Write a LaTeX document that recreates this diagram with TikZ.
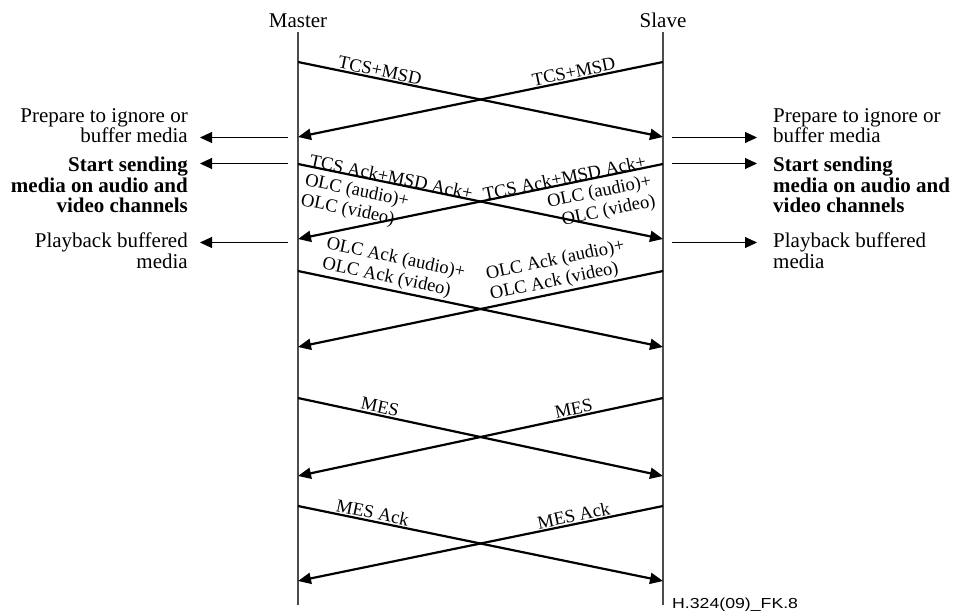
\documentclass[tikz,border=0pt]{standalone}
\usepackage{fontspec}
\setmainfont{Liberation Serif}
\newfontfamily\figfont{Liberation Sans}
\usetikzlibrary{arrows.meta}

\begin{document}
\begin{tikzpicture}[x=1pt,y=1pt,
  side/.style={font=\fontsize{21}{20.5}\selectfont, inner sep=0pt},
  sidebold/.style={side, font=\fontsize{21}{20.5}\selectfont\bfseries},
  head/.style={font=\fontsize{21}{20.5}\selectfont, inner xsep=0pt, inner ysep=5pt},
  lbl/.style={font=\fontsize{18.5}{20.5}\selectfont, inner sep=0pt},
  life/.style={draw=black!70, line width=1.2pt},
  msg/.style={line width=2.2pt, -{Triangle[length=13pt,width=11pt]}},
  note/.style={line width=1pt, -{Triangle[length=12pt,width=11pt]}},
]
\useasboundingbox (0,0) rectangle (955,-614);

% entities and lifelines
\node[head, anchor=base] (master) at (298,-27) {Master};
\node[head, anchor=base] (slave) at (663,-27) {Slave};
\coordinate (mEnd) at (298,-605);
\coordinate (sEnd) at (663,-605);
\draw[life] (master.south) -- (mEnd);
\draw[life] (slave.south) -- (sEnd);

% message end points on the lifelines
\foreach \n/\a/\b in {A/62/137, B/164/239, C/271/347, D/398/476, E/506/581}{
  \coordinate (m\n) at (298,-\a);
  \coordinate (s\n) at (663,-\a);
  \coordinate (m\n e) at (298,-\b);
  \coordinate (s\n e) at (663,-\b);
}

% TCS + MSD
\draw[msg] (mA) -- node[lbl, sloped, above=1pt, pos=0.22] (tcsL) {TCS+MSD} (sAe);
\draw[msg] (sA) -- node[lbl, sloped, above=1pt, pos=0.24] (tcsR) {TCS+MSD} (mAe);

% acknowledgements and logical channels
\draw[msg] (mB) --
  node[lbl, sloped, pos=0.027, anchor=base west] (ackL1) {TCS Ack+MSD Ack+}
  node[lbl, sloped, pos=0.025, anchor=north west, align=left, inner ysep=5.5pt] (ackL2) {OLC (audio)+\\OLC (video)}
  (sBe);
\draw[msg] (sB) --
  node[lbl, sloped, pos=0.041, anchor=base east] (ackR1) {TCS Ack+MSD Ack+}
  node[lbl, sloped, pos=0.038, anchor=north east, align=right, inner ysep=5.5pt] (ackR2) {OLC (audio)+\\OLC (video)}
  (mBe);

% OLC acknowledgements
\draw[msg] (mC) -- node[lbl, sloped, above=2pt, pos=0.25, align=left] (olcL) {OLC Ack (audio)+\\OLC Ack (video)} (sCe);
\draw[msg] (sC) -- node[lbl, sloped, above=2pt, pos=0.277, align=left] (olcR) {OLC Ack (audio)+\\OLC Ack (video)} (mCe);

% MES
\draw[msg] (mD) -- node[lbl, sloped, above=1pt, pos=0.22] (mesL) {MES} (sDe);
\draw[msg] (sD) -- node[lbl, sloped, above=1pt, pos=0.24] (mesR) {MES} (mDe);

% MES Ack
\draw[msg] (mE) -- node[lbl, sloped, above=1pt, pos=0.20] (mesAckL) {MES Ack} (sEe);
\draw[msg] (sE) -- node[lbl, sloped, above=1pt, pos=0.24] (mesAckR) {MES Ack} (mEe);

% local actions, master side
\node[side, anchor=north east, align=right] (prepL) at (188,-108) {Prepare to ignore or\\buffer media};
\node[sidebold, anchor=north east, align=right] (startL) at (188,-157) {Start sending\\media on audio and\\video channels};
\node[side, anchor=north east, align=right] (playL) at (188,-233) {Playback buffered\\media};
\coordinate (pL0) at (288,-137.5); \coordinate (pL1) at (200,-137.5);
\coordinate (sL0) at (288,-163.5); \coordinate (sL1) at (200,-163.5);
\coordinate (bL0) at (288,-242.5); \coordinate (bL1) at (200,-242.5);
\draw[note] (pL0) -- (pL1);
\draw[note] (sL0) -- (sL1);
\draw[note] (bL0) -- (bL1);

% local actions, slave side
\node[side, anchor=north west, align=left] (prepR) at (773,-108) {Prepare to ignore or\\buffer media};
\node[sidebold, anchor=north west, align=left] (startR) at (773,-157) {Start sending\\media on audio and\\video channels};
\node[side, anchor=north west, align=left] (playR) at (773,-233) {Playback buffered\\media};
\coordinate (pR0) at (672,-137.5); \coordinate (pR1) at (757,-137.5);
\coordinate (sR0) at (672,-163.5); \coordinate (sR1) at (757,-163.5);
\coordinate (bR0) at (672,-242.5); \coordinate (bR1) at (757,-242.5);
\draw[note] (pR0) -- (pR1);
\draw[note] (sR0) -- (sR1);
\draw[note] (bR0) -- (bR1);

% figure tag
\node[anchor=base west, inner sep=0pt, font=\figfont\fontsize{14.5}{16}\selectfont] (tag) at (672,-608) {\scalebox{1.22}[1]{H.324(09)\_FK.8}};
\end{tikzpicture}
\end{document}
